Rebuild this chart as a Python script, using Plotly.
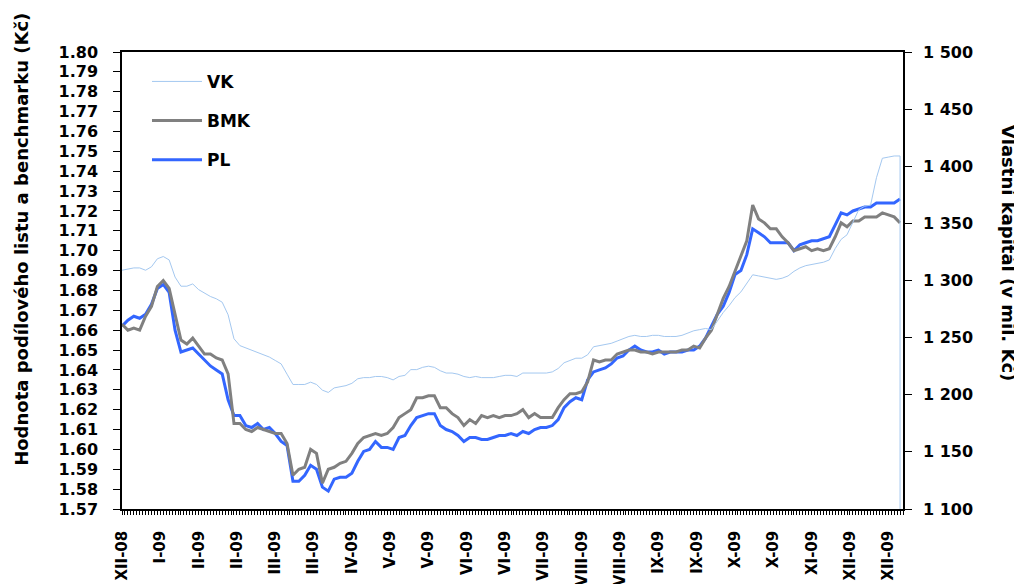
import plotly.graph_objects as go

# trading-day index of every second observation (XII-08 .. XII-09)
day_idx = list(range(0, 265, 2))

# x-axis category labels, one every 13 trading days
tick_step = 13
tick_labels = ["XII-08", "I-09", "II-09", "II-09", "III-09", "III-09", "IV-09",
               "V-09", "V-09", "VI-09", "VI-09", "VII-09", "VIII-09", "VIII-09",
               "IX-09", "IX-09", "X-09", "X-09", "XI-09", "XII-09", "XII-09"]

# benchmark value (Kč)
bmk = [1.663, 1.660, 1.661, 1.660, 1.667, 1.672, 1.682, 1.685, 1.681, 1.668,
       1.655, 1.653, 1.656, 1.652, 1.648, 1.648, 1.646, 1.645, 1.638, 1.613,
       1.613, 1.610, 1.609, 1.611, 1.610, 1.609, 1.608, 1.608, 1.603, 1.587,
       1.590, 1.591, 1.600, 1.598, 1.583, 1.590, 1.591, 1.593, 1.594, 1.598,
       1.603, 1.606, 1.607, 1.608, 1.607, 1.608, 1.611, 1.616, 1.618, 1.620,
       1.626, 1.626, 1.627, 1.627, 1.621, 1.621, 1.618, 1.616, 1.612, 1.615,
       1.613, 1.617, 1.616, 1.617, 1.616, 1.617, 1.617, 1.618, 1.620, 1.616,
       1.618, 1.616, 1.616, 1.616, 1.621, 1.625, 1.628, 1.628, 1.629, 1.634,
       1.645, 1.644, 1.645, 1.645, 1.648, 1.649, 1.650, 1.650, 1.649, 1.649,
       1.648, 1.649, 1.649, 1.649, 1.649, 1.650, 1.650, 1.652, 1.651, 1.656,
       1.660, 1.668, 1.676, 1.682, 1.690, 1.697, 1.705, 1.723, 1.716, 1.714,
       1.711, 1.711, 1.707, 1.704, 1.700, 1.701, 1.702, 1.700, 1.701, 1.700,
       1.701, 1.707, 1.714, 1.712, 1.715, 1.715, 1.717, 1.717, 1.717, 1.719,
       1.718, 1.717, 1.714]

# unit value of the fund (Kč)
pl = [1.662, 1.665, 1.667, 1.666, 1.668, 1.673, 1.681, 1.683, 1.679, 1.660,
      1.649, 1.650, 1.651, 1.648, 1.645, 1.642, 1.640, 1.638, 1.625, 1.617,
      1.617, 1.612, 1.611, 1.613, 1.610, 1.611, 1.608, 1.604, 1.602, 1.584,
      1.584, 1.587, 1.592, 1.590, 1.581, 1.579, 1.585, 1.586, 1.586, 1.588,
      1.594, 1.599, 1.600, 1.604, 1.601, 1.601, 1.600, 1.606, 1.607, 1.612,
      1.616, 1.617, 1.618, 1.618, 1.612, 1.610, 1.609, 1.607, 1.604, 1.606,
      1.606, 1.605, 1.605, 1.606, 1.607, 1.607, 1.608, 1.607, 1.609, 1.608,
      1.610, 1.611, 1.611, 1.612, 1.615, 1.621, 1.624, 1.626, 1.625, 1.635,
      1.639, 1.640, 1.641, 1.643, 1.646, 1.647, 1.650, 1.652, 1.650, 1.649,
      1.649, 1.650, 1.648, 1.649, 1.649, 1.649, 1.650, 1.650, 1.652, 1.656,
      1.662, 1.668, 1.672, 1.679, 1.688, 1.690, 1.698, 1.711, 1.709, 1.707,
      1.704, 1.704, 1.704, 1.704, 1.700, 1.703, 1.704, 1.705, 1.705, 1.706,
      1.707, 1.713, 1.719, 1.718, 1.720, 1.721, 1.722, 1.722, 1.724, 1.724,
      1.724, 1.724, 1.726]

# equity (mil. Kč), right axis
vk = [1309, 1310, 1311, 1311, 1309, 1312, 1319, 1321, 1318, 1303,
      1295, 1295, 1297, 1292, 1289, 1286, 1284, 1281, 1270, 1249,
      1243, 1241, 1239, 1237, 1235, 1233, 1230, 1227, 1218, 1209,
      1209, 1209, 1211, 1209, 1204, 1202, 1206, 1207, 1208, 1210,
      1214, 1215, 1215, 1216, 1216, 1215, 1213, 1216, 1217, 1222,
      1222, 1224, 1225, 1224, 1221, 1219, 1219, 1218, 1216, 1215,
      1216, 1215, 1215, 1215, 1216, 1217, 1217, 1216, 1219, 1219,
      1219, 1219, 1219, 1220, 1223, 1228, 1230, 1232, 1232, 1235,
      1242, 1243, 1244, 1245, 1247, 1249, 1251, 1252, 1251, 1251,
      1252, 1252, 1251, 1251, 1251, 1252, 1254, 1256, 1257, 1258,
      1257, 1265, 1272, 1278, 1285, 1290, 1298, 1305, 1304, 1303,
      1302, 1301, 1302, 1304, 1308, 1311, 1313, 1314, 1315, 1316,
      1318, 1328, 1336, 1340, 1351, 1362, 1365, 1366, 1390, 1407,
      1408, 1409, 1409]

y_left = [1.57, 1.80]
y_right = [1100, 1500]

FONT = "DejaVu Sans"

fig = go.Figure()

# VK is an unfilled area in the original: outline drops to the axis at the end
fig.add_trace(go.Scatter(
    x=day_idx + [day_idx[-1]], y=vk + [y_right[0]], yaxis="y2",
    mode="lines", name="VK", line=dict(color="#A4C8F0", width=1),
    legendgroup="vk", legendrank=1
))
fig.add_trace(go.Scatter(
    x=day_idx, y=pl, mode="lines", name="PL",
    line=dict(color="#3366FF", width=3),
    legendgroup="pl", legendrank=3
))
fig.add_trace(go.Scatter(
    x=day_idx, y=bmk, mode="lines", name="BMK",
    line=dict(color="#808080", width=3),
    legendgroup="bmk", legendrank=2
))

# page body has an 8px margin, so the figure is 8px smaller than the window
fig.update_layout(
    width=1014, height=576,
    margin=dict(l=114, r=119, t=44, b=75, autoexpand=False),
    paper_bgcolor="white", plot_bgcolor="white",
    separators=". ",
    font=dict(family=FONT, size=16, color="black", weight="bold"),
    showlegend=True,
    legend=dict(
        x=0.032, y=0.974, xanchor="left", yanchor="top",
        bgcolor="rgba(0,0,0,0)", itemwidth=50,
        tracegroupgap=14, traceorder="grouped",
        font=dict(family=FONT, size=17, weight="bold")
    ),
    xaxis=dict(
        range=[0, 265], showgrid=False, zeroline=False, automargin=False,
        showline=True, linecolor="black", linewidth=1.5, mirror=True,
        tickmode="array",
        tickvals=[i * tick_step for i in range(len(tick_labels))],
        ticktext=tick_labels, tickangle=-90,
        ticks="outside", ticklen=4, tickcolor="black",
        minor=dict(dtick=1, ticks="outside", ticklen=4, tickcolor="black"),
        ticklabelstandoff=10,
        tickfont=dict(family=FONT, size=15, weight="bold")
    ),
    yaxis=dict(
        range=y_left, dtick=0.01, tickformat=".2f", automargin=False,
        showgrid=False, zeroline=False,
        showline=True, linecolor="black", linewidth=1.5,
        ticks="outside", ticklen=7, tickcolor="black",
        ticklabelstandoff=12,
        tickfont=dict(family=FONT, size=16, weight="bold")
    ),
    yaxis2=dict(
        range=y_right, dtick=50, tickformat=",d", automargin=False,
        overlaying="y", side="right",
        showgrid=False, zeroline=False,
        showline=True, linecolor="black", linewidth=1.5,
        ticks="outside", ticklen=7, tickcolor="black",
        ticklabelstandoff=8,
        tickfont=dict(family=FONT, size=16, weight="bold")
    ),
    annotations=[
        dict(text="Hodnota podílového listu a benchmarku (Kč)",
             xref="paper", yref="paper", x=-0.128, y=0.589,
             xanchor="center", yanchor="middle",
             textangle=-90, showarrow=False,
             font=dict(family=FONT, size=18, weight="bold")),
        dict(text="Vlastní kapitál (v mil. Kč)",
             xref="paper", yref="paper", x=1.136, y=0.56,
             xanchor="center", yanchor="middle",
             textangle=90, showarrow=False,
             font=dict(family=FONT, size=18, weight="bold")),
    ],
)

fig.write_html("out.html")
